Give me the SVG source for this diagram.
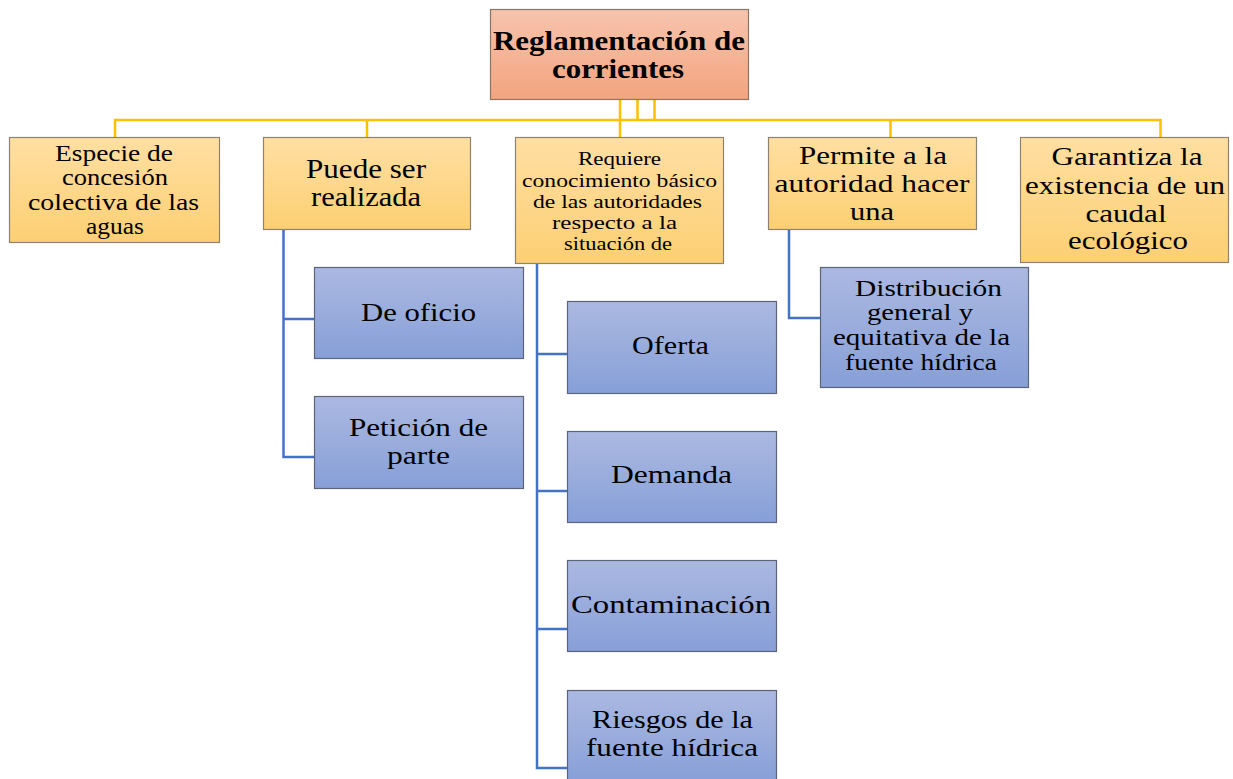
<svg xmlns="http://www.w3.org/2000/svg" width="1233" height="779" viewBox="0 0 1233 779">
<defs>
<linearGradient id="gR" x1="0" y1="0" x2="0" y2="1"><stop offset="0" stop-color="#f6c4ad"/><stop offset="1" stop-color="#f3a47f"/></linearGradient>
<linearGradient id="gY" x1="0" y1="0" x2="0" y2="1"><stop offset="0" stop-color="#ffdfa2"/><stop offset="1" stop-color="#fccf73"/></linearGradient>
<linearGradient id="gB" x1="0" y1="0" x2="0" y2="1"><stop offset="0" stop-color="#abb9e1"/><stop offset="1" stop-color="#879fd7"/></linearGradient>
</defs>
<style>
.r{fill:url(#gR);stroke:#8a7566;stroke-width:1.2}
.y{fill:url(#gY);stroke:#8e8270;stroke-width:1.2}
.b{fill:url(#gB);stroke:#5d6478;stroke-width:1.2}
text{fill:#000;text-anchor:middle}
.yl{fill:none;stroke:#ffc000;stroke-width:2.5}
.bl{fill:none;stroke:#4472c4;stroke-width:2.5}
</style>
<g id="connectors">
<path class="yl" d="M620 99V137M637.5 99V120M654.5 99V120M115 137V120H1160.5V137M367 120V137M890.5 120V137"/>
<path class="bl" d="M283.5 229V457H314M283.5 319H314"/>
<path class="bl" d="M537 263V768H567M537 354H567M537 491H567M537 629H567"/>
<path class="bl" d="M789 229V318H820"/>
</g>
<g font-family="'Liberation Serif', 'DejaVu Serif', serif">
<g id="root"><rect class="r" x="490.5" y="9.5" width="258" height="90"/>
<g font-size="27" font-weight="bold">
<text x="619" y="49.5" textLength="252" lengthAdjust="spacingAndGlyphs">Reglamentación de</text>
<text x="618" y="77.5" textLength="132" lengthAdjust="spacingAndGlyphs">corrientes</text></g></g>
<g id="n1"><rect class="y" x="9.5" y="137.5" width="210" height="105"/>
<g font-size="23">
<text x="114" y="161" textLength="118" lengthAdjust="spacingAndGlyphs">Especie de</text>
<text x="115" y="185" textLength="106" lengthAdjust="spacingAndGlyphs">concesión</text>
<text x="113.5" y="210" textLength="171" lengthAdjust="spacingAndGlyphs">colectiva de las</text>
<text x="115" y="234" textLength="58" lengthAdjust="spacingAndGlyphs">aguas</text></g></g>
<g id="n2"><rect class="y" x="263.5" y="137.5" width="207" height="92"/>
<g font-size="27">
<text x="366" y="178" textLength="120" lengthAdjust="spacingAndGlyphs">Puede ser</text>
<text x="366" y="206" textLength="110" lengthAdjust="spacingAndGlyphs">realizada</text></g></g>
<g id="n3"><rect class="y" x="515.5" y="137.5" width="208" height="126"/>
<g font-size="19.5">
<text x="619.5" y="165" textLength="83" lengthAdjust="spacingAndGlyphs">Requiere</text>
<text x="619.5" y="186.5" textLength="195" lengthAdjust="spacingAndGlyphs">conocimiento básico</text>
<text x="617.5" y="207.5" textLength="169" lengthAdjust="spacingAndGlyphs">de las autoridades</text>
<text x="614.5" y="228.5" textLength="125" lengthAdjust="spacingAndGlyphs">respecto a la</text>
<text x="618" y="249.5" textLength="108" lengthAdjust="spacingAndGlyphs">situación de</text></g></g>
<g id="n4"><rect class="y" x="768.5" y="137.5" width="208" height="92"/>
<g font-size="26">
<text x="873" y="164" textLength="148" lengthAdjust="spacingAndGlyphs">Permite a la</text>
<text x="872" y="192" textLength="195" lengthAdjust="spacingAndGlyphs">autoridad hacer</text>
<text x="872" y="220" textLength="44" lengthAdjust="spacingAndGlyphs">una</text></g></g>
<g id="n5"><rect class="y" x="1020.5" y="137.5" width="208" height="125"/>
<g font-size="26">
<text x="1127" y="165" textLength="151" lengthAdjust="spacingAndGlyphs">Garantiza la</text>
<text x="1125" y="193.5" textLength="200" lengthAdjust="spacingAndGlyphs">existencia de un</text>
<text x="1126" y="221.5" textLength="81" lengthAdjust="spacingAndGlyphs">caudal</text>
<text x="1128" y="249" textLength="120" lengthAdjust="spacingAndGlyphs">ecológico</text></g></g>
<g font-size="26">
<g id="n6"><rect class="b" x="314.5" y="267.5" width="209" height="91"/>
<text x="418.5" y="320.5" textLength="115" lengthAdjust="spacingAndGlyphs">De oficio</text></g>
<g id="n7"><rect class="b" x="314.5" y="396.5" width="209" height="92"/>
<text x="418.5" y="436" textLength="139" lengthAdjust="spacingAndGlyphs">Petición de</text>
<text x="418.5" y="464" textLength="63" lengthAdjust="spacingAndGlyphs">parte</text></g>
<g id="n8"><rect class="b" x="567.5" y="301.5" width="209" height="92"/>
<text x="670.5" y="353.5" textLength="77" lengthAdjust="spacingAndGlyphs">Oferta</text></g>
<g id="n9"><rect class="b" x="567.5" y="431.5" width="209" height="91"/>
<text x="671.5" y="483" textLength="121" lengthAdjust="spacingAndGlyphs">Demanda</text></g>
<g id="n10"><rect class="b" x="567.5" y="560.5" width="209" height="91"/>
<text x="671" y="613" textLength="200" lengthAdjust="spacingAndGlyphs">Contaminación</text></g>
<g id="n11"><rect class="b" x="567.5" y="690.5" width="209" height="92"/>
<text x="672.5" y="728" textLength="161" lengthAdjust="spacingAndGlyphs">Riesgos de la</text>
<text x="672" y="756" textLength="172" lengthAdjust="spacingAndGlyphs">fuente hídrica</text></g>
</g>
<g id="n12"><rect class="b" x="820.5" y="267.5" width="208" height="120"/>
<g font-size="23">
<text x="928.5" y="296" textLength="147" lengthAdjust="spacingAndGlyphs">Distribución</text>
<text x="920" y="320" textLength="106" lengthAdjust="spacingAndGlyphs">general y</text>
<text x="921.5" y="345" textLength="177" lengthAdjust="spacingAndGlyphs">equitativa de la</text>
<text x="921" y="370" textLength="152" lengthAdjust="spacingAndGlyphs">fuente hídrica</text></g></g>
</g>
</svg>
